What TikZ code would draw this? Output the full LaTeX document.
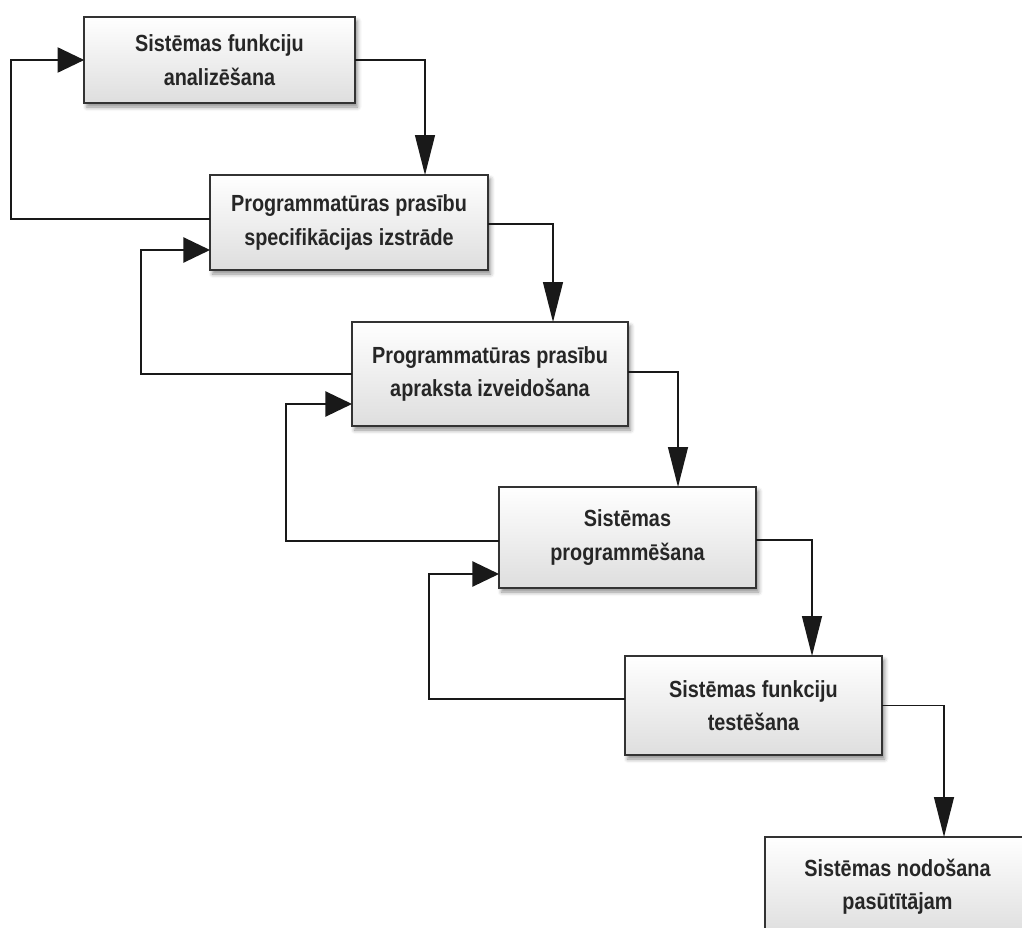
\documentclass[tikz,border=0pt]{standalone}
\usepackage{fontspec}
\setmainfont{Liberation Sans}[FakeStretch=0.85]
\usetikzlibrary{arrows.meta,calc,shadows.blur}

\tikzset{
  stage/.style={draw=black!80, line width=1.4pt, top color=white, bottom color=black!13,
    blur shadow={shadow xshift=2pt, shadow yshift=-3pt, shadow blur radius=3pt, shadow opacity=45},
    align=center, inner sep=0pt, outer sep=0pt, text=black!85,
    font=\fontsize{17.5}{25}\selectfont\bfseries},
  fwd/.style={draw=black!90, line width=1pt, -{Triangle[length=30pt,width=15pt]}},
  back/.style={draw=black!90, line width=1pt, -{Triangle[length=20pt,width=19pt]}},
}

\begin{document}
\begin{tikzpicture}[x=0.75pt, y=-0.75pt]
  \useasboundingbox (0,0) rectangle (1022,928);

  % stages
  \node[stage, minimum width=203pt, minimum height=64.5pt] (b1) at (219.5,60)
    {Sistēmas funkciju\\analizēšana};
  \node[stage, minimum width=208.5pt, minimum height=71.25pt] (b2) at (349,222.5)
    {Programmatūras prasību\\specifikācijas izstrāde};
  \node[stage, minimum width=207pt, minimum height=78pt] (b3) at (490,374)
    {Programmatūras prasību\\apraksta izveidošana};
  \node[stage, minimum width=192.75pt, minimum height=75.75pt] (b4) at (627.5,537.5)
    {Sistēmas\\programmēšana};
  \node[stage, minimum width=192.75pt, minimum height=74.25pt] (b5) at (753.5,705.5)
    {Sistēmas funkciju\\testēšana};
  \node[stage, minimum width=199pt, minimum height=75pt] (b6) at (897.5,887)
    {Sistēmas nodošana\\pasūtītājam};

  % forward steps
  \draw[fwd] (b1.east) -| ($(b2.north)+(76,0)$);
  \draw[fwd] ($(b2.east)+(0,1.5)$) -| ($(b3.north)+(63,0)$);
  \draw[fwd] ($(b3.east)+(0,-2)$) -| ($(b4.north)+(50.5,0)$);
  \draw[fwd] ($(b4.east)+(0,2.5)$) -| ($(b5.north)+(58.5,0)$);
  \draw[fwd] (b5.east) -| ($(b6.north)+(46.5,0)$);

  % feedback loops
  \draw[back] ($(b2.west)+(0,-3.5)$) -- ++(-199,0) |- (b1.west);
  \draw[back] (b3.west) -- ++(-211,0) |- ($(b2.west)+(0,27.5)$);
  \draw[back] ($(b4.west)+(0,3.5)$) -- ++(-213,0) |- ($(b3.west)+(0,30)$);
  \draw[back] ($(b5.west)+(0,-6.5)$) -- ++(-196,0) |- ($(b4.west)+(0,36.5)$);
\end{tikzpicture}
\end{document}
